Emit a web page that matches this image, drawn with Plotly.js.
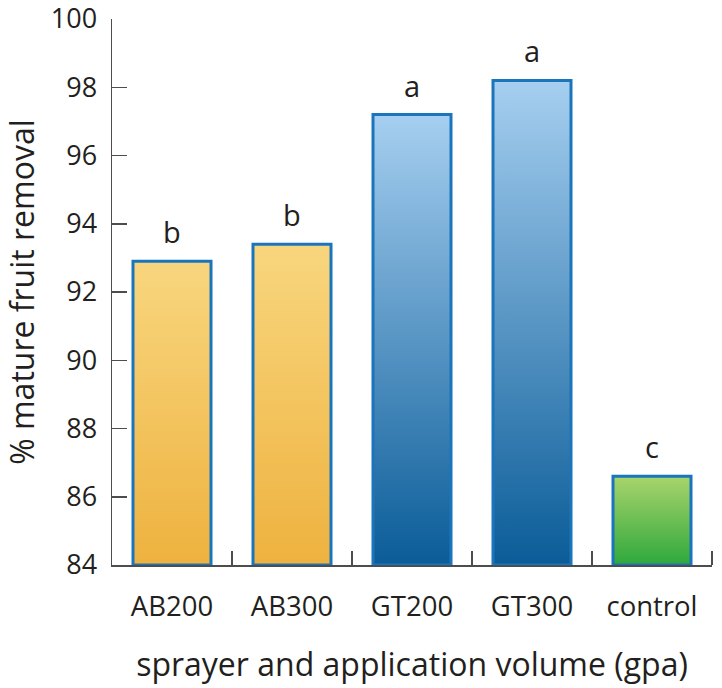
<!DOCTYPE html>
<html>
<head>
<meta charset="utf-8">
<script src="https://cdn.plot.ly/plotly-3.0.1.min.js"></script>
<style>html,body{margin:0;padding:0;background:#fff;}#chart{width:722px;height:688px;}</style>
</head>
<body>
<div id="chart"></div>
<script>
const categories = ["AB200", "AB300", "GT200", "GT300", "control"];
const values = [92.9, 93.4, 97.2, 98.2, 86.6];
const letters = ["b", "b", "a", "a", "c"];
const topColors = ["#f8d67e", "#f8d67e", "#a6cff0", "#a6cff0", "#a9d46c"];
const bottomColors = ["#eeb23f", "#eeb23f", "#0a5c98", "#0a5c98", "#2ea83d"];
const yTicks = [84, 86, 88, 90, 92, 94, 96, 98, 100];

const baseValue = 84;
const halfWidth = 0.325;
const font = "'Open Sans', 'Noto Sans', sans-serif";

const traces = categories.map((c, i) => ({
  type: "scatter",
  mode: "lines",
  x: [i - halfWidth, i + halfWidth, i + halfWidth, i - halfWidth, i - halfWidth],
  y: [baseValue, baseValue, values[i], values[i], baseValue],
  fill: "toself",
  fillgradient: {
    type: "vertical",
    colorscale: [[0, bottomColors[i]], [1, topColors[i]]]
  },
  line: {color: "#1b75bc", width: 3},
  hoverinfo: "skip",
  showlegend: false,
  cliponaxis: false
}));

const annotations = categories.map((c, i) => ({
  x: i, y: values[i], xref: "x", yref: "y",
  text: letters[i], showarrow: false,
  yanchor: "bottom", yshift: 8,
  font: {family: font, size: 29, color: "#231f20"}
}));

const boundaries = categories.map((c, i) => i + 0.5);

const layout = {
  width: 722, height: 688,
  margin: {l: 112, r: 10, t: 19, b: 123},
  paper_bgcolor: "#fff", plot_bgcolor: "#fff",
  showlegend: false,
  xaxis: {
    type: "linear",
    range: [-0.5, 4.5],
    tickmode: "array",
    tickvals: categories.map((c, i) => i),
    ticktext: categories,
    ticks: "",
    showgrid: false, zeroline: false,
    showline: true, linecolor: "#4d4d4d", linewidth: 1.5,
    ticklabelstandoff: 16,
    ticklabeloverflow: "allow",
    tickfont: {family: font, size: 27.5, color: "#231f20"},
    minor: {tickmode: "array", tickvals: boundaries, ticks: "inside", ticklen: 14, tickwidth: 1.5, tickcolor: "#4d4d4d", showgrid: false},
    title: {text: "sprayer and application volume (gpa)", font: {family: font, size: 32, color: "#231f20"}, standoff: 31},
    automargin: false,
    fixedrange: true
  },
  yaxis: {
    range: [84, 100],
    tickmode: "array",
    tickvals: yTicks,
    ticktext: yTicks.map(String),
    ticks: "inside", ticklen: 15, tickwidth: 1.5, tickcolor: "#4d4d4d",
    showgrid: false, zeroline: false,
    showline: true, linecolor: "#4d4d4d", linewidth: 1.5,
    ticklabelstandoff: 8,
    ticklabeloverflow: "allow",
    tickfont: {family: font, size: 27, color: "#231f20"},
    title: {text: "% mature fruit removal", font: {family: font, size: 32, color: "#231f20"}, standoff: 11},
    automargin: false,
    fixedrange: true
  },
  annotations: annotations
};

Plotly.newPlot("chart", traces, layout, {displayModeBar: false, staticPlot: true});
</script>
</body>
</html>
